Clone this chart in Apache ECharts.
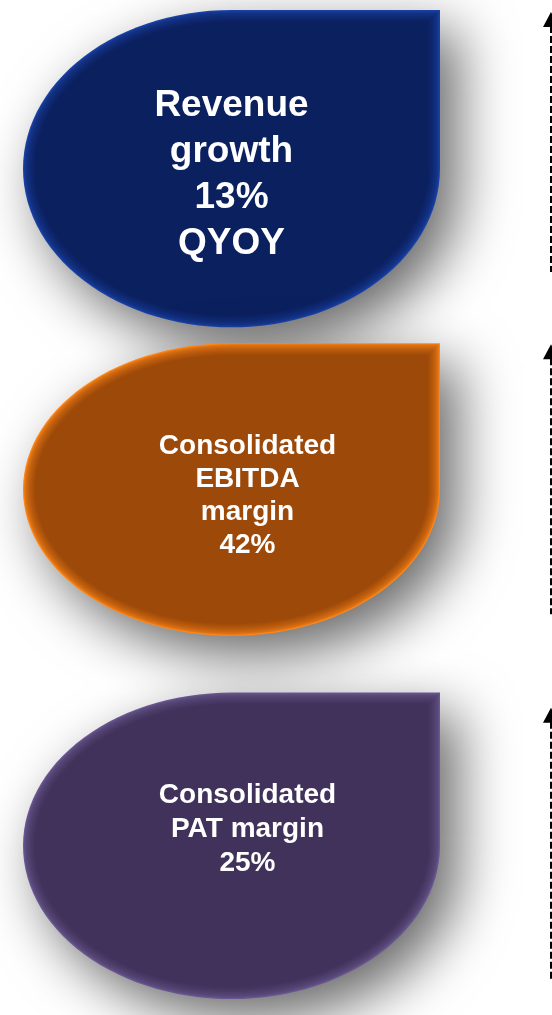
<!DOCTYPE html>
<html>
<head>
<meta charset="utf-8">
<style>
  html, body { margin: 0; padding: 0; background: #fff; }
  #main { width: 552px; height: 1015px; }
</style>
<script src="https://cdn.jsdelivr.net/npm/echarts@6/dist/echarts.min.js"></script>
</head>
<body>
<div id="main"></div>
<script>
// data
var rows = ['revenue', 'ebitda', 'pat'];
var titles = [['Revenue', 'growth'], ['Consolidated', 'EBITDA', 'margin'], ['Consolidated', 'PAT margin']];
var values = [13, 42, 25];
var notes = ['QYOY', '', ''];

// look
var mainColors = ['#0b205e', '#9c4909', '#40325a'];
var edgeColors = ['#1a42a6', '#ff8618', '#6a5790'];
var fontSizes = [37, 28, 28];
var lineHeights = [46, 33, 34];
// small per row tweaks, relative to the category band
var shapeScale = [0.938, 0.865, 0.906];
var shapeShift = [-0.5, -18, 0];
var textShift = [5.5, -11.5, -16.5];
var textShiftX = [0, 16, 16];
var arrowTop = [12, 6, 31];
var lineLen = [260, 270, 272];

function hex2rgb(h) {
    return [parseInt(h.substr(1, 2), 16), parseInt(h.substr(3, 2), 16), parseInt(h.substr(5, 2), 16)];
}
function mix(c1, c2, t) {
    var a = hex2rgb(c1), b = hex2rgb(c2);
    return 'rgb(' + [0, 1, 2].map(function (k) { return Math.round(a[k] + (b[k] - a[k]) * t); }).join(',') + ')';
}

// ellipse with a square top-right corner
function teardrop(x0, y0, x1, y1) {
    var cx = (x0 + x1) / 2, cy = (y0 + y1) / 2, rx = (x1 - x0) / 2, ry = (y1 - y0) / 2;
    var pts = [[x1, y0]];
    for (var a = 0; a <= 270; a += 3) {
        var t = a * Math.PI / 180;
        pts.push([cx + rx * Math.cos(t), cy + ry * Math.sin(t)]);
    }
    return pts;
}

var chart = echarts.init(document.getElementById('main'));

var option = {
    animation: false,
    grid: { left: 23, right: 112, top: 0, bottom: -8 },
    xAxis: { type: 'value', min: 0, max: 1, show: false },
    yAxis: { type: 'category', data: rows, inverse: true, show: false },
    series: [{
        type: 'custom',
        encode: { x: 0, y: 1 },
        data: values.map(function (v, i) { return [0, i, v]; }),
        renderItem: function (params, api) {
            var i = api.value(1);
            var l = api.coord([0, i]);
            var r = api.coord([1, i]);
            var band = api.size([0, 1])[1];
            var h = band * shapeScale[i];
            var cy = l[1] + shapeShift[i];
            var x0 = l[0], x1 = r[0], y0 = cy - h / 2, y1 = cy + h / 2;
            var kids = [];

            kids.push({
                type: 'polygon',
                shape: { points: teardrop(x0, y0, x1, y1) },
                style: {
                    fill: edgeColors[i],
                    shadowBlur: 55,
                    shadowOffsetX: 18,
                    shadowOffsetY: 20,
                    shadowColor: 'rgba(0,0,0,0.6)'
                }
            });
            var N = 10;
            for (var k = 1; k <= N; k++) {
                var d = k * 1.2;
                kids.push({
                    type: 'polygon',
                    shape: { points: teardrop(x0 + d, y0 + d, x1 - d, y1 - d) },
                    style: { fill: mix(edgeColors[i], mainColors[i], Math.pow(k / N, 0.55)) }
                });
            }

            var txt = titles[i].concat([values[i] + '%']);
            if (notes[i]) txt.push(notes[i]);
            kids.push({
                type: 'text',
                x: (x0 + x1) / 2 + textShiftX[i],
                y: l[1] + textShift[i],
                style: {
                    text: txt.join('\n'),
                    fill: '#fff',
                    align: 'center',
                    verticalAlign: 'middle',
                    fontSize: fontSizes[i],
                    fontWeight: 'bold',
                    fontFamily: '"Liberation Sans", Arial, sans-serif',
                    lineHeight: lineHeights[i]
                }
            });

            // dashed guide with arrow at the right edge
            var bandTop = l[1] - band / 2;
            var tip = bandTop + arrowTop[i];
            var ax = api.getWidth() - 1;
            kids.push({
                type: 'line',
                shape: { x1: ax, y1: tip + 14, x2: ax, y2: tip + lineLen[i] },
                style: { stroke: '#000', lineWidth: 2, lineDash: [7, 3] }
            });
            kids.push({
                type: 'polygon',
                shape: { points: [[ax, tip], [ax - 8, tip + 15], [ax + 8, tip + 15]] },
                style: { fill: '#000' }
            });

            return { type: 'group', children: kids };
        }
    }]
};

chart.clear();
chart.resize();
chart.setOption(option);
</script>
</body>
</html>
